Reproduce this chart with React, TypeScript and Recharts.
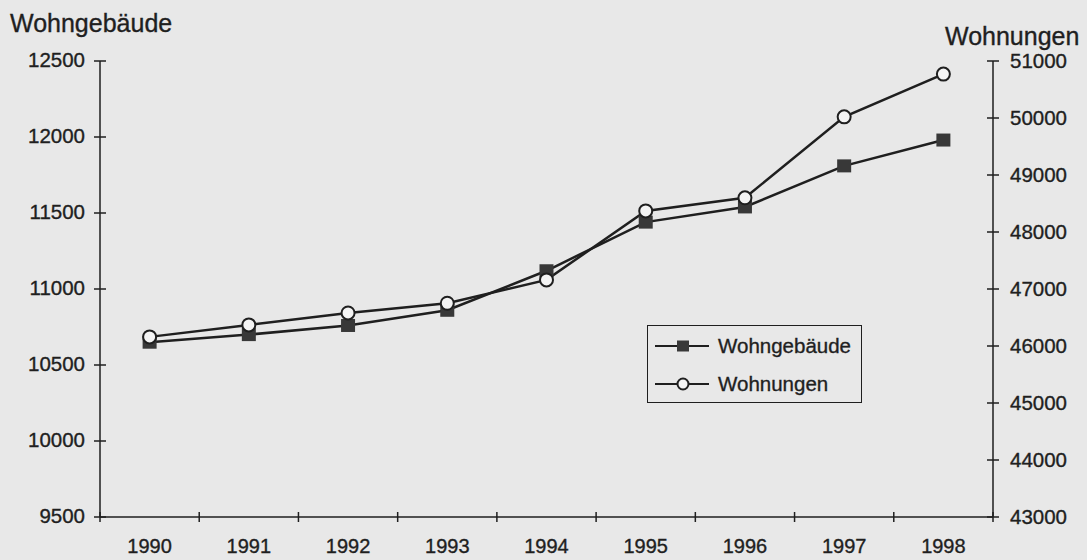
import { LineChart, Line, XAxis, YAxis } from "recharts";

// values
const years = ["1990", "1991", "1992", "1993", "1994", "1995", "1996", "1997", "1998"];
const wohngebaeude = [10650, 10700, 10760, 10860, 11120, 11440, 11540, 11810, 11980];
const wohnungen = [46160, 46370, 46580, 46750, 47160, 48370, 48600, 50020, 50770];
const leftTicks = [9500, 10000, 10500, 11000, 11500, 12000, 12500];
const rightTicks = [43000, 44000, 45000, 46000, 47000, 48000, 49000, 50000, 51000];

const data = years.map((year, i) => ({
  year,
  wohngebaeude: wohngebaeude[i],
  wohnungen: wohnungen[i],
}));

const W = 1087;
const H = 560;
const PLOT_L = 100;
const PLOT_R = 993;
const PLOT_T = 61;
const PLOT_B = 517;
const BAND = (PLOT_R - PLOT_L) / years.length;

const INK = "#1f1f1f";
const PAPER = "#e8e8e8";
const FONT = '"Liberation Sans", Arial, sans-serif';
// scanned print looks a little heavier than a plain regular weight
const textInk = { fill: INK, stroke: INK, strokeWidth: 0.35, fontFamily: FONT };

function LeftTick({ x, y, payload }: any) {
  return (
    <g>
      <line x1={x - 6} x2={x + 6} y1={y} y2={y} stroke={INK} strokeWidth={1.5} />
      <text x={x - 15} y={y} dy={6} textAnchor="end" fontSize={20.5} {...textInk}>
        {payload.value}
      </text>
    </g>
  );
}

function RightTick({ x, y, payload }: any) {
  return (
    <g>
      <line x1={x - 6} x2={x + 6} y1={y} y2={y} stroke={INK} strokeWidth={1.5} />
      <text x={x + 17} y={y} dy={7} textAnchor="start" fontSize={20.5} {...textInk}>
        {payload.value}
      </text>
    </g>
  );
}

function YearTick({ x, y, payload, index }: any) {
  const last = index === years.length - 1;
  return (
    <g>
      <line x1={x - BAND / 2} x2={x - BAND / 2} y1={y - 5} y2={y + 5} stroke={INK} strokeWidth={1.5} />
      {last && (
        <line x1={x + BAND / 2} x2={x + BAND / 2} y1={y - 5} y2={y + 5} stroke={INK} strokeWidth={1.5} />
      )}
      <text x={x} y={y} dy={36} textAnchor="middle" fontSize={20} {...textInk}>
        {payload.value}
      </text>
    </g>
  );
}

function SquareDot({ cx, cy, index }: any) {
  if (cx == null || cy == null) return null;
  return <rect key={`sq-${index}`} x={cx - 7} y={cy - 6.5} width={14} height={13} fill="#383838" />;
}

export default function App() {
  return (
    <div
      style={{
        position: "absolute",
        left: 0,
        top: 0,
        width: W,
        height: H,
        background: PAPER,
        fontFamily: FONT,
      }}
    >
      <LineChart
        width={W}
        height={H}
        data={data}
        margin={{ top: PLOT_T, right: W - PLOT_R - 94, bottom: 0, left: PLOT_L - 90 }}
      >
        <XAxis
          dataKey="year"
          height={H - PLOT_B}
          padding={{ left: BAND / 2, right: BAND / 2 }}
          axisLine={{ stroke: INK, strokeWidth: 1.5 }}
          tickLine={false}
          tickSize={0}
          tickMargin={0}
          interval={0}
          tick={<YearTick />}
        />
        <YAxis
          yAxisId="left"
          width={90}
          domain={[9500, 12500]}
          ticks={leftTicks}
          axisLine={{ stroke: INK, strokeWidth: 1.5 }}
          tickLine={false}
          tickSize={0}
          tickMargin={0}
          tick={<LeftTick />}
        />
        <YAxis
          yAxisId="right"
          orientation="right"
          width={94}
          domain={[43000, 51000]}
          ticks={rightTicks}
          axisLine={{ stroke: INK, strokeWidth: 1.5 }}
          tickLine={false}
          tickSize={0}
          tickMargin={0}
          tick={<RightTick />}
        />
        <Line
          yAxisId="left"
          dataKey="wohngebaeude"
          stroke={INK}
          strokeWidth={2.5}
          dot={<SquareDot />}
          isAnimationActive={false}
        />
        <Line
          yAxisId="right"
          dataKey="wohnungen"
          stroke={INK}
          strokeWidth={2.5}
          dot={{ r: 6.5, fill: "#f4f4f4", stroke: INK, strokeWidth: 2 }}
          isAnimationActive={false}
        />
      </LineChart>

      {/* axis titles */}
      <svg width={W} height={H} style={{ position: "absolute", left: 0, top: 0, pointerEvents: "none" }}>
        <text x={10} y={32} fontSize={25} {...textInk}>
          Wohngebäude
        </text>
        <text x={945} y={45} fontSize={25} {...textInk}>
          Wohnungen
        </text>
      </svg>

      {/* legend */}
      <div
        style={{
          position: "absolute",
          left: 647,
          top: 325,
          width: 213,
          height: 76,
          border: `1.5px solid ${INK}`,
          background: PAPER,
        }}
      >
        <svg width={213} height={76}>
          <line x1={7} x2={61} y1={20} y2={20} stroke={INK} strokeWidth={2} />
          <rect x={29} y={14.5} width={12} height={11} fill="#383838" />
          <text x={70} y={27} fontSize={20.5} {...textInk}>
            Wohngebäude
          </text>
          <line x1={7} x2={61} y1={58} y2={58} stroke={INK} strokeWidth={2} />
          <circle cx={35} cy={58} r={5.5} fill="#f4f4f4" stroke={INK} strokeWidth={2} />
          <text x={70} y={65} fontSize={20.5} {...textInk}>
            Wohnungen
          </text>
        </svg>
      </div>
    </div>
  );
}
